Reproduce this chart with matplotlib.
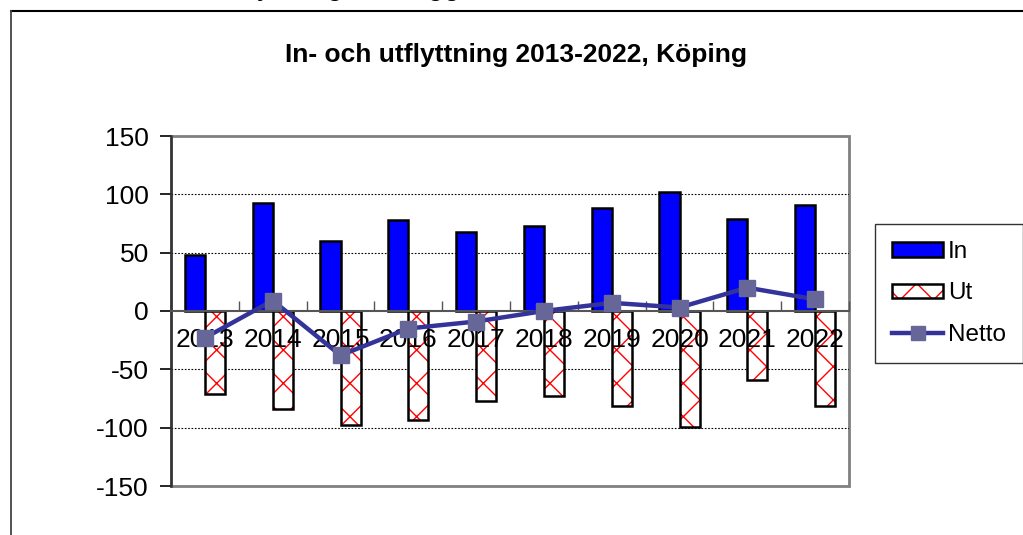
import matplotlib
matplotlib.use("Agg")
import matplotlib.pyplot as plt
from matplotlib.patches import Rectangle, Patch
from matplotlib.lines import Line2D

plt.rcParams['font.family'] = ['Liberation Sans', 'DejaVu Sans']
plt.rcParams['hatch.linewidth'] = 1.0
plt.rcParams['axes.unicode_minus'] = False

years = ['2013', '2014', '2015', '2016', '2017', '2018', '2019', '2020', '2021', '2022']
inflytt = [48, 93, 60, 78, 68, 73, 88, 102, 79, 91]
utflytt = [-71, -84, -98, -93, -77, -73, -81, -99, -59, -81]
netto = [-23, 9, -38, -15, -9, 0, 7, 3, 20, 10]
yticks = [-150, -100, -50, 0, 50, 100, 150]
gridlines = [-100, -50, 50, 100]

title = 'In- och utflyttning 2013-2022, Köping'
W, H = 1023, 535

fig = plt.figure(figsize=(W / 100, H / 100), dpi=100)
ax = fig.add_axes([171 / W, 1 - 486 / H, (849 - 171) / W, (486 - 136) / H])

# dotted gridlines under the bars
for g in gridlines:
    ax.axhline(g, linestyle=(0, (1.5, 1.5)), color='black', linewidth=0.8, zorder=0.8)

x = list(range(len(years)))
bw = 0.295
ax.bar([i - bw / 2 for i in x], inflytt, width=bw, color='#0000ff',
       edgecolor='black', linewidth=1.8, zorder=1.5)
ax.bar([i + bw / 2 for i in x], utflytt, width=bw, color='white',
       edgecolor='red', hatch='x', linewidth=0, zorder=1.5)
ax.bar([i + bw / 2 for i in x], utflytt, width=bw, fill=False,
       edgecolor='black', linewidth=1.8, zorder=1.6)
ax.plot(x, netto, color='#333399', linewidth=3.2, marker='s', markersize=11,
        markerfacecolor='#666699', markeredgecolor='#666699', zorder=5,
        clip_on=False)

ax.set_xlim(-0.5, 9.5)
ax.set_ylim(-150, 150)
ax.set_yticks(yticks)
ax.tick_params(axis='y', direction='out', length=8, width=1.2, labelsize=19, pad=8)

# x axis crosses at 0, tick marks between categories
ax.spines['bottom'].set_position(('data', 0))
ax.spines['bottom'].set_color('#555555')
ax.spines['bottom'].set_linewidth(1.5)
ax.set_xticks([i - 0.5 for i in range(len(years) + 1)])
ax.set_xticklabels([])
ax.set_xticks(x, minor=True)
ax.set_xticklabels(years, minor=True)
ax.tick_params(axis='x', which='major', direction='in', length=7, width=1.0, color='#555555')
ax.tick_params(axis='x', which='minor', length=0, labelsize=19, pad=12)

for s in ['top', 'right']:
    ax.spines[s].set_visible(False)
ax.spines['left'].set_color('#333333')
ax.spines['left'].set_linewidth(1.8)
ax.add_patch(Rectangle((0, 0), 1, 1, transform=ax.transAxes, fill=False,
                       edgecolor='#808080', linewidth=2, zorder=0.7, clip_on=False))

fig.text(516 / W, 1 - 55 / H, title, ha='center', va='center', fontsize=19, fontweight='bold')
# cut-off heading above the chart
fig.text(233 / W, 1 + 5 / H, 'Flyttningar, tillägg', ha='left', va='baseline', fontsize=21)

# chart area border
fig.add_artist(Line2D([11 / W, 1], [1 - 11 / H, 1 - 11 / H], color='black', linewidth=1.5))
fig.add_artist(Line2D([11 / W, 11 / W], [0, 1 - 11 / H], color='#444444', linewidth=1.3))

h_in = Patch(facecolor='#0000ff', edgecolor='black', linewidth=1.8)
h_ut = (Patch(facecolor='white', edgecolor='red', hatch='x', linewidth=0),
        Patch(fill=False, edgecolor='black', linewidth=1.8))
h_net = Line2D([], [], color='#333399', linewidth=3.2, marker='s', markersize=10,
               markerfacecolor='#666699', markeredgecolor='#666699')
leg = fig.legend([h_in, h_ut, h_net], ['In', 'Ut', 'Netto'], loc='upper left',
                 bbox_to_anchor=(875 / W, 1 - 224 / H), fontsize=17.5, frameon=True,
                 fancybox=False, edgecolor='black', handlelength=2.1, handleheight=0.55,
                 handletextpad=0.2, borderpad=0.7, labelspacing=0.8, borderaxespad=0)
leg.get_frame().set_linewidth(1.0)

fig.savefig('out.png', dpi=100)
